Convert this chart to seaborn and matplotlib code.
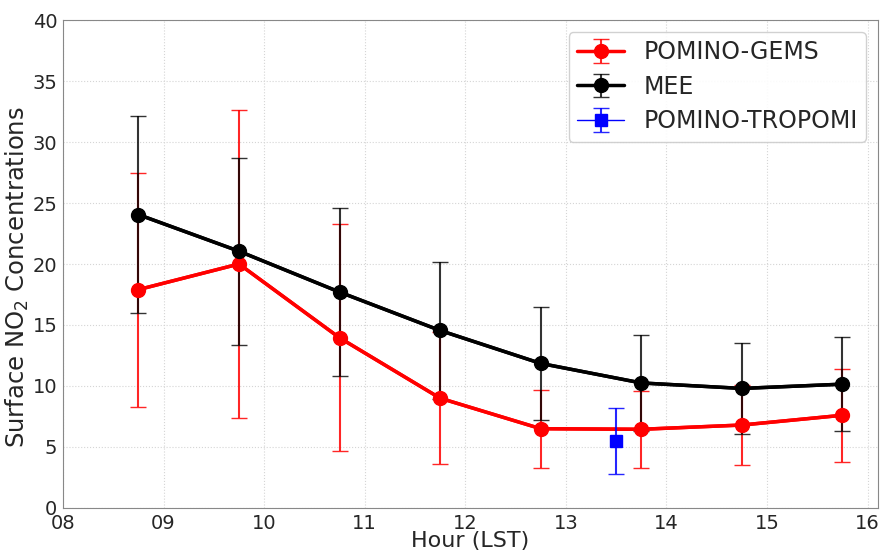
import numpy as np
import pandas as pd
import matplotlib
matplotlib.use('Agg')
import matplotlib.pyplot as plt
import seaborn as sns

hours = [8.75, 9.75, 10.75, 11.75, 12.75, 13.75, 14.75, 15.75]

gems_mean = [17.9, 20.0, 13.95, 9.0, 6.5, 6.45, 6.8, 7.6]
gems_std = [9.6, 12.6, 9.3, 5.4, 3.2, 3.15, 3.3, 3.8]

mee_mean = [24.05, 21.05, 17.7, 14.55, 11.85, 10.25, 9.8, 10.15]
mee_std = [8.1, 7.65, 6.85, 5.65, 4.6, 3.9, 3.7, 3.85]

tropomi_hour = [13.5]
tropomi_mean = [5.5]
tropomi_std = [2.7]

tick_hours = [8, 9, 10, 11, 12, 13, 14, 15, 16]

sns.set_style('whitegrid', {'grid.linestyle': ':', 'grid.color': '#d5d5d5',
                            'axes.edgecolor': '#888888'})
plt.rcParams['font.family'] = ['DejaVu Sans']

fig = plt.figure(figsize=(8.82, 5.53), dpi=100)
ax = fig.add_axes([0.0714, 0.0814, 0.9236, 0.8824])

# Lines through seaborn, whiskers through errorbar
gems = pd.DataFrame({'hour': hours, 'no2': gems_mean})
mee = pd.DataFrame({'hour': hours, 'no2': mee_mean})
sns.lineplot(data=gems, x='hour', y='no2', color='red', lw=2.5, ax=ax, legend=False)
sns.lineplot(data=mee, x='hour', y='no2', color='black', lw=2.5, ax=ax, legend=False)

ax.errorbar(hours, gems_mean, yerr=gems_std, fmt='o-', color='red', lw=2.5, ms=10,
            elinewidth=1.5, capsize=6, ecolor=(1, 0, 0, 0.85), label='POMINO-GEMS', zorder=3)
ax.errorbar(hours, mee_mean, yerr=mee_std, fmt='o-', color='black', lw=2.5, ms=10,
            elinewidth=1.5, capsize=6, ecolor=(0, 0, 0, 0.8), label='MEE', zorder=3)
ax.errorbar(tropomi_hour, tropomi_mean, yerr=tropomi_std, fmt='s-', color='blue', lw=1, ms=9,
            elinewidth=1.5, capsize=6, ecolor=(0, 0, 1, 0.85), label='POMINO-TROPOMI', zorder=4)

ax.set_xlim(8, 16.1)
ax.set_ylim(0, 40)
ax.set_xticks(tick_hours)
ax.set_xticklabels(['%02d' % h for h in tick_hours])
ax.set_yticks(range(0, 41, 5))
ax.tick_params(labelsize=14, length=0, pad=4)
ax.set_xlabel('Hour (LST)', fontsize=16)
ax.set_ylabel('Surface NO$_2$ Concentrations', fontsize=17.5)
ax.xaxis.set_label_coords(0.5, -0.048)
ax.yaxis.set_label_coords(-0.039, 0.473)

ax.legend(loc='upper right', fontsize=17, framealpha=0.9, handlelength=2.0,
          borderpad=0.35, labelspacing=0.45)

fig.savefig('out.png', dpi=100)
